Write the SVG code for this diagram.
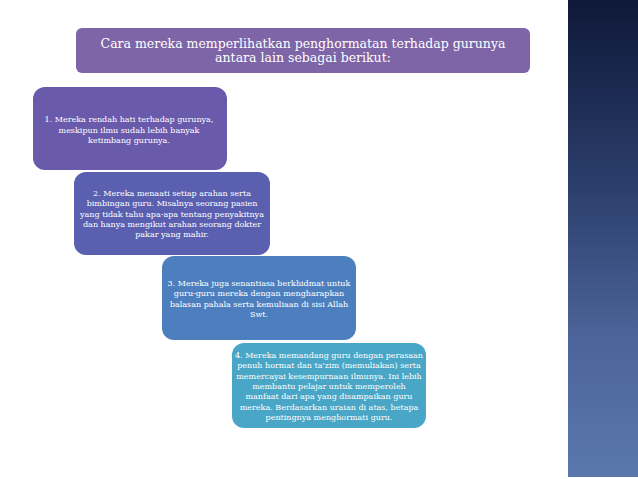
<svg xmlns="http://www.w3.org/2000/svg" width="638" height="479" viewBox="0 0 638 479">
<defs>
<linearGradient id="bar" x1="0" y1="0" x2="0" y2="1">
<stop offset="0" stop-color="#0e1838"/>
<stop offset="0.35" stop-color="#283a66"/>
<stop offset="0.7" stop-color="#4b6398"/>
<stop offset="1" stop-color="#5a78ad"/>
</linearGradient>
<style>
text{font-family:"DejaVu Serif","Liberation Serif",serif;fill:#ffffff;text-anchor:middle}
.t{font-size:12.5px}
.s{font-size:8px}
</style>
</defs>
<rect width="638" height="479" fill="#ffffff"/>
<rect x="568" y="0" width="70" height="477" fill="url(#bar)"/>
<g id="title">
<rect x="76" y="28" width="454" height="45" rx="6" fill="#7d65a7"/>
<text class="t" x="303" y="48">Cara mereka memperlihatkan penghormatan terhadap gurunya</text>
<text class="t" x="303" y="62">antara lain sebagai berikut:</text>
</g>
<g id="box1">
<rect x="33" y="87" width="194" height="83" rx="12" fill="#6a5aab"/>
<text class="s" x="129" y="122">1. Mereka rendah hati terhadap gurunya,</text>
<text class="s" x="129" y="132.5">meskipun ilmu sudah lebih banyak</text>
<text class="s" x="129" y="143">ketimbang gurunya.</text>
</g>
<g id="box2">
<rect x="74" y="172" width="196" height="83" rx="12" fill="#5a5fb0"/>
<text class="s" x="172" y="196">2. Mereka menaati setiap arahan serta</text>
<text class="s" x="172" y="206.3">bimbingan guru. Misalnya seorang pasien</text>
<text class="s" x="172" y="216.6">yang tidak tahu apa-apa tentang penyakitnya</text>
<text class="s" x="172" y="226.9">dan hanya mengikut arahan seorang dokter</text>
<text class="s" x="172" y="237.2">pakar yang mahir.</text>
</g>
<g id="box3">
<rect x="162" y="256" width="194" height="84" rx="12" fill="#4d7fbf"/>
<text class="s" x="259" y="286">3. Mereka juga senantiasa berkhidmat untuk</text>
<text class="s" x="259" y="296.3">guru-guru mereka dengan mengharapkan</text>
<text class="s" x="259" y="306.6">balasan pahala serta kemuliaan di sisi Allah</text>
<text class="s" x="259" y="316.9">Swt.</text>
</g>
<g id="box4">
<rect x="232" y="343" width="194" height="85" rx="12" fill="#4aa6c6"/>
<text class="s" x="329" y="358">4. Mereka memandang guru dengan perasaan</text>
<text class="s" x="329" y="368.3">penuh hormat dan ta'zim (memuliakan) serta</text>
<text class="s" x="329" y="378.6">memercayai kesempurnaan ilmunya. Ini lebih</text>
<text class="s" x="329" y="388.9">membantu pelajar untuk memperoleh</text>
<text class="s" x="329" y="399.2">manfaat dari apa yang disampaikan guru</text>
<text class="s" x="329" y="409.5">mereka. Berdasarkan uraian di atas, betapa</text>
<text class="s" x="329" y="419.8">pentingnya menghormati guru.</text>
</g>
<g id="connectors"></g>
</svg>
